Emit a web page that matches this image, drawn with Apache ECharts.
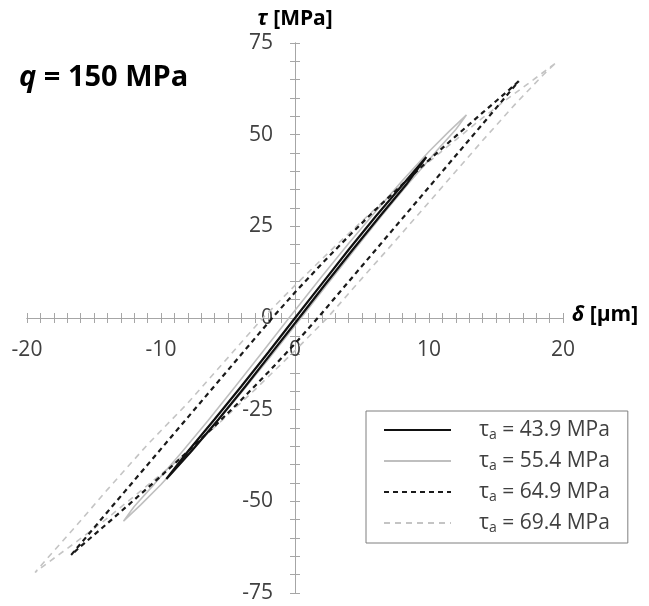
<!DOCTYPE html>
<html><head><meta charset="utf-8">
<script src="https://cdn.jsdelivr.net/npm/echarts@6/dist/echarts.min.js"></script>
<style>html,body{margin:0;padding:0;background:#fff}#c{width:649px;height:606px}</style>
</head><body><div id="c"></div>
<script>
// amplitudes (legend)
const amplitudes = ['43.9', '55.4', '64.9', '69.4'];
// x ticks / y ticks
const xTickLabels = [-20, -10, 0, 10, 20];
const yTickLabels = [-75, -50, -25, 0, 25, 50, 75];

// tau_a = 43.9 MPa (black solid): upper branch then lower branch
const loop439 = [
  [9.8,43.9],[8,36.2],[6,27.6],[4,18.6],[2,9.3],[0,0],[-2,-9.4],[-4,-18.6],[-6,-27.6],[-8,-36.4],[-9.6,-43.9],
  [-7.7,-36.2],[-5.7,-27.6],[-3.7,-18.6],[-1.7,-9.3],[0.3,0],[2.3,9.4],[4.3,18.6],[6.3,27.6],[8.3,36.4],[9.8,43.9]
];
// tau_a = 55.4 MPa (grey solid)
const loop554 = [
  [12.8,55.4],[11.5,50.9],[10,45.4],[8,37.4],[6,29],[4,20.3],[2,11.3],[-0.45,0],[-2.5,-9.6],[-4.5,-18.9],[-6.5,-28],[-8.5,-36.8],[-10.5,-45.3],[-12,-51.4],[-12.8,-55.4],
  [-11.5,-50.9],[-10,-45.4],[-8,-37.4],[-6,-29],[-4,-20.3],[-2,-11.3],[0.45,0],[2.5,9.6],[4.5,18.9],[6.5,28],[8.5,36.8],[10.5,45.3],[12,51.4],[12.8,55.4]
];
// tau_a = 64.9 MPa (black dashed)
const loop649 = [
  [16.7,64.6],[16,62.3],[14,56],[12,49.6],[10,43.1],[8,36.4],[6,29.5],[4,22.3],[2,14.8],[0,7],[-1.7,0],[-4,-9.9],[-6,-18.5],[-8,-27.1],[-10,-35.7],[-12,-44.3],[-14,-52.9],[-15.5,-59.4],[-16.7,-64.6],
  [-16,-62.3],[-14,-56],[-12,-49.6],[-10,-43.1],[-8,-36.4],[-6,-29.5],[-4,-22.3],[-2,-14.8],[0,-7],[1.7,0],[4,9.9],[6,18.5],[8,27.1],[10,35.7],[12,44.3],[14,52.9],[15.5,59.4],[16.7,64.6]
];
// tau_a = 69.4 MPa (grey dashed)
const loop694 = [
  [19.4,69.4],[17.8,65],[16.3,61],[14,54.6],[12,48.6],[9,39.6],[6,29.8],[3,19.6],[0,8.9],[-2.4,0],[-5,-10.8],[-8,-23.2],[-11,-34.5],[-14,-46.8],[-16.5,-57.4],[-18.5,-65.6],[-19.4,-69.4],
  [-17.8,-65],[-16.3,-61],[-14,-54.6],[-12,-48.6],[-9,-39.6],[-6,-29.8],[-3,-19.6],[0,-8.9],[2.4,0],[5,10.8],[8,23.2],[11,35.8],[14,48.4],[16.5,58.6],[18.5,66.2],[19.4,69.4]
];

const FONT = '"Open Sans", Lato, sans-serif';
const AX = '#a6a6a6';
const names = amplitudes.map(a => 'τa = ' + a + ' MPa');

// layout
const W = 649, H = 606;
const G = {left: 27, right: 86, top: 43, bottom: 13};
const X_MIN = -20, X_MAX = 20, Y_MIN = -75, Y_MAX = 75;
const gw = W - G.left - G.right, gh = H - G.top - G.bottom;
// shift axes so that they cross at the origin
const xShift = gh * (0 - Y_MIN) / (Y_MAX - Y_MIN);
const yShift = gw * (0 - X_MIN) / (X_MAX - X_MIN);
const xShiftTop = gh * (Y_MAX - 0) / (Y_MAX - Y_MIN);
const yShiftRight = gw * (X_MAX - 0) / (X_MAX - X_MIN);

const chart = echarts.init(document.getElementById('c'), null, {renderer: 'canvas'});
function axisBase(extra) {
  return Object.assign({
    type: 'value', gridIndex: 0,
    axisLine: {show: true, onZero: false, lineStyle: {color: AX, width: 1}},
    axisTick: {show: true, length: 5, lineStyle: {color: AX, width: 1}},
    splitLine: {show: false}
  }, extra);
}
const boldRich = {
  i: {fontFamily: FONT, fontSize: 21, fontWeight: 'bold', fontStyle: 'italic', color: '#000'},
  n: {fontFamily: FONT, fontSize: 21, fontWeight: 'bold', color: '#000'}
};
const option = {
  animation: false,
  backgroundColor: '#fff',
  title: {
    text: '{i|q}{n| = 150 MPa}', left: 14, top: 58,
    textStyle: {rich: {
      i: {fontFamily: FONT, fontSize: 29, fontWeight: 'bold', fontStyle: 'italic', color: '#000'},
      n: {fontFamily: FONT, fontSize: 29, fontWeight: 'bold', color: '#000'}
    }}
  },
  grid: Object.assign({containLabel: false, outerBoundsMode: 'none'}, G),
  xAxis: [
    axisBase({min: X_MIN, max: X_MAX, interval: 1, position: 'bottom', offset: -xShift,
      name: '{i|δ}{n| [µm]}', nameLocation: 'end', nameGap: 9,
      nameTextStyle: {verticalAlign: 'middle', padding: [0,0,6,0], rich: boldRich},
      axisLabel: {show: true, margin: 22, fontFamily: FONT, fontSize: 21, color: '#404040',
        formatter: v => xTickLabels.indexOf(v) >= 0 ? String(v) : ''}}),
    axisBase({min: X_MIN, max: X_MAX, interval: 1, position: 'top', offset: -xShiftTop, axisLabel: {show: false}})
  ],
  yAxis: [
    axisBase({min: Y_MIN, max: Y_MAX, interval: 5, position: 'left', offset: -yShift,
      name: '{i|τ}{n| [MPa]}', nameLocation: 'end', nameGap: 13,
      nameTextStyle: {align: 'center', rich: boldRich},
      axisLabel: {show: true, margin: 22, fontFamily: FONT, fontSize: 21, color: '#404040',
        formatter: v => yTickLabels.indexOf(v) >= 0 ? String(v) : ''}}),
    axisBase({min: Y_MIN, max: Y_MAX, interval: 5, position: 'right', offset: -yShiftRight, axisLabel: {show: false}})
  ],
  legend: {
    orient: 'vertical', left: 366, top: 411,
    data: names,
    backgroundColor: '#fff', borderColor: '#7f7f7f', borderWidth: 1,
    padding: [7, 18, 8, 17],
    itemWidth: 67, itemHeight: 14, itemGap: 7,
    itemStyle: {opacity: 0},
    formatter: name => '{t|τ}{s|a}{t|' + name.slice(2) + '}',
    textStyle: {padding: [0, 0, 0, 23], rich: {
      t: {fontFamily: FONT, fontSize: 21, color: '#404040', lineHeight: 24},
      s: {fontFamily: FONT, fontSize: 14, color: '#404040', lineHeight: 24, padding: [10, 0, 0, 0]}
    }},
    z: 10
  },
  series: [
    {name: names[0], type: 'line', data: loop439, symbol: 'none', z: 5,
      lineStyle: {color: '#111', width: 2.2, type: 'solid'}, itemStyle: {color: '#111'}},
    {name: names[1], type: 'line', data: loop554, symbol: 'none', z: 3,
      lineStyle: {color: '#bfbfbf', width: 1.6, type: 'solid'}, itemStyle: {color: '#bfbfbf'}},
    {name: names[2], type: 'line', data: loop649, symbol: 'none', z: 4,
      lineStyle: {color: '#1a1a1a', width: 2.2, type: [5, 4]}, itemStyle: {color: '#1a1a1a'}},
    {name: names[3], type: 'line', data: loop694, symbol: 'none', z: 2,
      lineStyle: {color: '#c4c4c4', width: 1.6, type: [6, 5]}, itemStyle: {color: '#c4c4c4'}}
  ]
};
chart.setOption(option);
</script>
</body></html>
